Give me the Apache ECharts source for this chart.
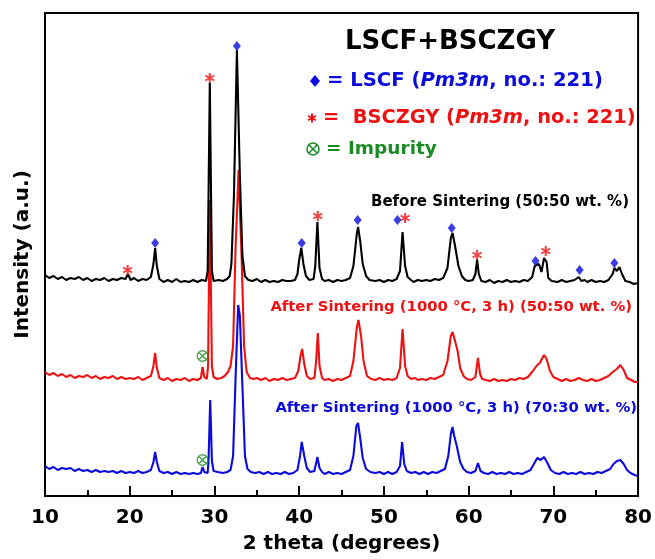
<!DOCTYPE html>
<html lang="en">
<head>
    <meta charset="utf-8">
    <script src="https://cdn.jsdelivr.net/npm/echarts@6/dist/echarts.min.js"></script>
    <style>
        html, body { margin: 0; padding: 0; background: #fff; }
        #xrd { width: 655px; height: 559px; }
    </style>
</head>
<body>
<div id="xrd"></div>
<script type="text/javascript">
    // 2 theta range of the plot
    var xMin = 10, xMax = 80, xStep = 10;

    // traces: [2 theta, intensity (a.u., already offset)]
    var blackTrace = [
        [10,221],[10.5,218],[11,220],[11.5,217],[12,219],[12.5,216],[13,218],[13.5,217],[14,219],[14.5,216],
        [15,218],[15.5,215],[16,217],[16.5,216],[17,218],[17.5,215],[18,217],[18.5,216],[19,218],[19.5,217],
        [19.8,222],[20.1,216],[20.5,218],[21,215],[21.5,217],[22,216],[22.5,219],[22.8,232],[23.0,248],[23.2,230],
        [23.5,217],[24,214],[24.5,216],[25,214],[25.5,217],[26,214],[26.5,215],[27,214],[27.5,216],[28,214],
        [28.5,216],[29,215],[29.2,225],[29.45,413],[29.7,225],[29.9,215],[30.5,216],[31,215],[31.5,217],[31.8,220],
        [32.0,232],[32.3,300],[32.65,446],[33.0,320],[33.3,240],[33.6,220],[34,216],[34.5,215],[35,217],[35.5,214],
        [36,216],[36.5,214],[37,215],[37.5,214],[38,216],[38.5,215],[39,215],[39.5,216],[39.8,222],[40.0,236],
        [40.25,248],[40.5,232],[40.8,220],[41.2,216],[41.7,217],[41.9,230],[42.15,274],[42.4,228],[42.7,217],[43,215],
        [43.5,216],[44,214],[44.5,216],[45,215],[45.5,216],[46,218],[46.4,230],[46.8,262],[46.95,269],[47.2,255],
        [47.5,232],[47.9,220],[48.3,216],[49,215],[49.5,216],[50,214],[50.5,216],[51,215],[51.5,217],[51.9,225],
        [52.2,264],[52.5,230],[52.8,219],[53.2,216],[53.5,214],[54,216],[54.5,215],[55,216],[55.5,215],[56,217],
        [56.5,216],[57,218],[57.5,228],[57.9,258],[58.1,263],[58.4,250],[58.8,230],[59.2,220],[59.6,216],[60,215],
        [60.5,216],[60.8,222],[61.0,236],[61.2,222],[61.5,215],[62,214],[62.5,216],[63,213],[63.5,215],[64,214],
        [64.5,216],[65,214],[65.5,215],[66,214],[66.5,216],[67,215],[67.5,219],[67.8,230],[68.0,228],[68.3,232],
        [68.6,224],[68.9,238],[69.2,234],[69.4,218],[69.8,215],[70.5,214],[71,216],[71.5,214],[72,215],[72.5,216],
        [73,219],[73.3,215],[73.7,216],[74,214],[74.5,216],[75,214],[75.5,215],[76,214],[76.5,216],[77,222],
        [77.2,228],[77.5,225],[77.8,229],[78.1,222],[78.5,215],[79,214],[79.5,212],[80,213]
    ];
    var redTrace = [
        [10,124],[10.5,121],[11,123],[11.5,120],[12,122],[12.5,119],[13,121],[13.5,118],[14,120],[14.5,119],
        [15,121],[15.5,118],[16,120],[16.5,117],[17,119],[17.5,118],[18,120],[18.5,117],[19,119],[19.5,117],
        [20,118],[20.5,117],[21,119],[21.5,116],[22,118],[22.5,120],[22.8,130],[23.0,143],[23.2,128],[23.5,118],
        [24,116],[24.5,118],[25,115],[25.5,117],[26,116],[26.5,118],[27,115],[27.5,117],[28,116],[28.4,118],
        [28.6,129],[28.8,119],[29.1,117],[29.25,130],[29.45,296],[29.7,130],[29.9,119],[30.3,117],[30.8,118],[31.2,120],
        [31.6,124],[31.9,130],[32.2,150],[32.5,250],[32.85,326],[33.2,240],[33.5,150],[33.8,124],[34.2,118],[34.6,117],
        [35,118],[35.5,116],[36,118],[36.5,115],[37,117],[37.5,116],[38,118],[38.5,116],[39,117],[39.5,118],
        [39.9,125],[40.15,140],[40.35,147],[40.6,132],[40.9,120],[41.3,117],[41.8,118],[42.0,135],[42.2,163],[42.4,130],
        [42.7,118],[43,116],[43.5,117],[44,115],[44.5,117],[45,116],[45.5,118],[46,120],[46.4,135],[46.8,168],
        [47.0,176],[47.3,160],[47.6,135],[48,120],[48.5,117],[49,116],[49.5,118],[50,116],[50.5,117],[51,116],
        [51.5,118],[51.9,128],[52.2,167],[52.5,130],[52.8,120],[53.2,117],[53.7,118],[54,116],[54.5,117],[55,116],
        [55.5,118],[56,117],[56.5,119],[57,121],[57.5,135],[57.9,160],[58.1,164],[58.4,155],[58.7,145],[59,128],
        [59.4,120],[59.8,117],[60.3,116],[60.8,119],[61.1,138],[61.35,122],[61.6,117],[62,116],[62.5,115],[63,117],
        [63.5,115],[64,116],[64.5,115],[65,117],[65.5,116],[66,118],[66.5,117],[67,119],[67.5,124],[68,130],
        [68.4,133],[68.9,141],[69.2,137],[69.6,125],[70,119],[70.5,117],[71,115],[71.5,117],[72,115],[72.5,116],
        [73,118],[73.5,116],[74,115],[74.5,117],[75,115],[75.5,116],[76,118],[76.5,120],[77,124],[77.5,127],
        [77.9,131],[78.3,126],[78.7,118],[79.2,116],[79.6,114],[80,114]
    ];
    var blueTrace = [
        [10,30],[10.5,27],[11,29],[11.5,26],[12,28],[12.5,27],[13,28],[13.5,25],[14,27],[14.5,25],
        [15,26],[15.5,24],[16,26],[16.5,24],[17,25],[17.5,24],[18,25],[18.5,23],[19,25],[19.5,23],
        [20,24],[20.5,23],[21,25],[21.5,23],[22,24],[22.5,26],[22.8,34],[23.0,44],[23.2,34],[23.5,25],
        [24,23],[24.5,24],[25,22],[25.5,24],[26,22],[26.5,23],[27,22],[27.5,23],[28,22],[28.4,23],
        [28.6,29],[28.8,24],[29.2,23],[29.3,35],[29.5,96],[29.7,35],[29.9,25],[30.4,24],[31,23],[31.5,24],
        [31.9,26],[32.2,40],[32.5,120],[32.8,191],[33.0,180],[33.3,110],[33.6,40],[33.9,27],[34.3,24],[34.8,23],
        [35.3,24],[35.8,22],[36.3,24],[36.8,22],[37.3,23],[37.8,22],[38.3,24],[38.8,22],[39.3,23],[39.8,26],
        [40.1,40],[40.3,54],[40.6,40],[40.9,28],[41.3,24],[41.8,25],[42.15,39],[42.4,28],[42.7,24],[43,22],
        [43.5,24],[44,22],[44.5,23],[45,22],[45.5,24],[46,26],[46.4,40],[46.75,70],[46.95,73],[47.2,58],
        [47.5,38],[47.9,27],[48.4,24],[49,23],[49.5,24],[50,22],[50.5,24],[51,22],[51.5,24],[51.9,30],
        [52.15,54],[52.4,32],[52.7,25],[53.2,23],[53.7,24],[54.2,22],[54.7,24],[55.2,22],[55.7,24],[56.2,23],
        [56.7,25],[57.2,27],[57.6,40],[57.9,62],[58.1,69],[58.3,60],[58.6,50],[59,34],[59.4,27],[59.8,24],
        [60.3,23],[60.8,25],[61.1,33],[61.4,25],[61.8,23],[62.3,22],[62.8,24],[63.3,22],[63.8,23],[64.3,22],
        [64.8,24],[65.3,22],[65.8,23],[66.3,22],[66.8,24],[67.3,26],[67.7,32],[68.1,38],[68.5,36],[68.9,39],
        [69.3,33],[69.7,26],[70.2,23],[70.7,22],[71.2,24],[71.7,22],[72.2,23],[72.7,22],[73.2,24],[73.7,22],
        [74.2,23],[74.7,22],[75.2,24],[75.7,23],[76.2,25],[76.7,27],[77.1,32],[77.5,35],[77.9,36],[78.3,32],
        [78.7,26],[79.1,23],[79.6,21],[80,20]
    ];

    // peak markers: [2 theta, marker height]
    var lscfPeaks = [[23.0,253],[32.65,450],[40.3,253],[46.9,276],[51.6,276],[58.0,268],[67.9,235],[73.1,226],[77.2,233]];
    var bsczgyPeaks = [[19.75,226],[29.45,418],[42.2,280],[52.5,278],[61.0,241],[69.1,245]];
    var impurityPeaks = [[28.6,140],[28.6,36]];

    var asteriskPath = 'path://M-1,-5L1,-5L1,5L-1,5Z M3.83,-3.37L4.83,-1.63L-3.83,3.37L-4.83,1.63Z M-4.83,-1.63L-3.83,-3.37L4.83,1.63L3.83,3.37Z';
    var otimesPath = 'path://M0,-6A6,6,0,1,1,0,6A6,6,0,1,1,0,-6Z M0,-4.6A4.6,4.6,0,1,0,0,4.6A4.6,4.6,0,1,0,0,-4.6Z ' +
        'M2.97,-4.10L4.10,-2.97L-2.97,4.10L-4.10,2.97Z M-4.10,-2.97L-2.97,-4.10L4.10,2.97L2.97,4.10Z';

    var BLUE = '#0a0adc', RED = '#ee1111', GREEN = '#1b8a23';
    var FONT = '"DejaVu Sans", sans-serif';

    // little legend glyphs built from lines
    function asteriskIcon(cx, cy, r, color) {
        var parts = [];
        [90, 30, -30].forEach(function (a) {
            var dx = r * Math.cos(a * Math.PI / 180), dy = r * Math.sin(a * Math.PI / 180);
            parts.push({type: 'line', shape: {x1: cx - dx, y1: cy - dy, x2: cx + dx, y2: cy + dy}, style: {stroke: color, lineWidth: 2}});
        });
        return parts;
    }
    function otimesIcon(cx, cy, r, color) {
        var d = r * 0.68;
        return [
            {type: 'circle', shape: {cx: cx, cy: cy, r: r}, style: {fill: null, stroke: color, lineWidth: 1.5}},
            {type: 'line', shape: {x1: cx - d, y1: cy - d, x2: cx + d, y2: cy + d}, style: {stroke: color, lineWidth: 1.5}},
            {type: 'line', shape: {x1: cx - d, y1: cy + d, x2: cx + d, y2: cy - d}, style: {stroke: color, lineWidth: 1.5}}
        ];
    }

    var chart = echarts.init(document.getElementById('xrd'), null, {renderer: 'canvas'});

    var graphics = [
        {type: 'text', x: 450, y: 42, style: {text: 'LSCF+BSCZGY', font: 'bold 26px ' + FONT, fill: '#000', align: 'center', verticalAlign: 'middle'}},
        {type: 'polygon', shape: {points: [[315, 75], [320, 81], [315, 87], [310, 81]]}, style: {fill: BLUE}},
        {type: 'text', x: 327, y: 81, style: {
            text: '{n|= LSCF (}{i|Pm3m}{n|, no.: 221)}', align: 'left', verticalAlign: 'middle',
            rich: {n: {font: 'bold 19.6px ' + FONT, fill: BLUE}, i: {font: 'italic bold 19.6px ' + FONT, fill: BLUE}}
        }},
        {type: 'text', x: 323, y: 118, style: {
            text: '{n|=  BSCZGY (}{i|Pm3m}{n|, no.: 221)}', align: 'left', verticalAlign: 'middle',
            rich: {n: {font: 'bold 19.4px ' + FONT, fill: RED}, i: {font: 'italic bold 19.4px ' + FONT, fill: RED}}
        }},
        {type: 'text', x: 326, y: 149, style: {text: '= Impurity', font: 'bold 18.5px ' + FONT, fill: GREEN, align: 'left', verticalAlign: 'middle'}},
        {type: 'text', x: 629, y: 202, style: {text: 'Before Sintering (50:50 wt. %)', font: 'bold 15px ' + FONT, fill: '#000', align: 'right', verticalAlign: 'middle'}},
        {type: 'text', x: 632, y: 307, style: {text: 'After Sintering (1000 \u00B0C, 3 h) (50:50 wt. %)', font: 'bold 14.8px ' + FONT, fill: RED, align: 'right', verticalAlign: 'middle'}},
        {type: 'text', x: 637, y: 408, style: {text: 'After Sintering (1000 \u00B0C, 3 h) (70:30 wt. %)', font: 'bold 14.8px ' + FONT, fill: BLUE, align: 'right', verticalAlign: 'middle'}}
    ].concat(asteriskIcon(312, 118, 4.5, RED), otimesIcon(313, 149, 6, GREEN));

    var option = {
        backgroundColor: '#fff',
        animation: false,
        grid: {left: 45, right: 14, top: 13, bottom: 63, show: true, borderColor: '#000', borderWidth: 2},
        xAxis: {
            type: 'value', min: xMin, max: xMax, interval: xStep,
            name: '2 theta (degrees)', nameLocation: 'middle', nameGap: 38,
            nameTextStyle: {fontFamily: FONT, fontWeight: 'bold', fontSize: 20, color: '#000'},
            axisLine: {lineStyle: {color: '#000', width: 2}},
            axisTick: {inside: true, length: 10, lineStyle: {width: 2, color: '#000'}},
            minorTick: {show: true, splitNumber: 2, length: 6, lineStyle: {width: 2, color: '#000'}},
            axisLabel: {fontFamily: FONT, fontWeight: 'bold', fontSize: 20, color: '#000', margin: 12},
            splitLine: {show: false}
        },
        yAxis: {
            type: 'value', min: 0, max: 483,
            name: 'Intensity (a.u.)', nameLocation: 'middle', nameGap: 12,
            nameTextStyle: {fontFamily: FONT, fontWeight: 'bold', fontSize: 20, color: '#000'},
            axisLine: {show: true, lineStyle: {color: '#000', width: 2}},
            axisTick: {show: false},
            axisLabel: {show: false},
            splitLine: {show: false}
        },
        series: [
            {type: 'line', data: redTrace, showSymbol: false, lineStyle: {color: RED, width: 2.1}, z: 2},
            {type: 'line', data: blueTrace, showSymbol: false, lineStyle: {color: BLUE, width: 2.1}, z: 3},
            {type: 'line', data: blackTrace, showSymbol: false, lineStyle: {color: '#000', width: 2.1}, z: 4},
            {type: 'scatter', data: lscfPeaks, symbol: 'diamond', symbolSize: [8, 10], itemStyle: {color: BLUE}, z: 6},
            {type: 'scatter', data: bsczgyPeaks, symbol: asteriskPath, symbolSize: 10, itemStyle: {color: RED}, z: 6},
            {type: 'scatter', data: impurityPeaks, symbol: otimesPath, symbolSize: 12, itemStyle: {color: GREEN}, z: 6}
        ],
        graphic: graphics
    };
    chart.setOption(option);
</script>
</body>
</html>
